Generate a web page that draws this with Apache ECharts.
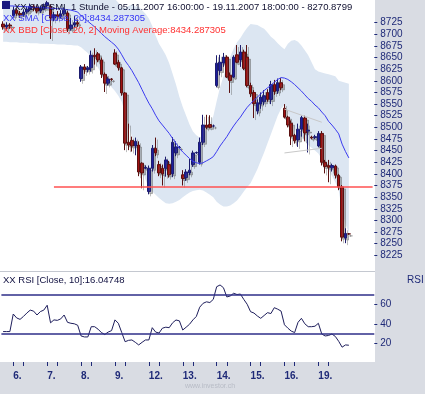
<!DOCTYPE html>
<html><head><meta charset="utf-8">
<script src="https://cdn.jsdelivr.net/npm/echarts@6/dist/echarts.min.js"></script>
<style>html,body{margin:0;padding:0;background:#fff}#c{width:425px;height:394px}</style>
</head><body><div id="c"></div>
<script>
// ---- data ----
const dayLabels = ['5.','6.','7.','8.','9.','12.','13.','14.','15.','16.','19.'];
const barsPerDay = [3,10,10,10,10,10,10,10,10,10,10];
const hours = ['09:00','10:00','11:00','12:00','13:00','14:00','15:00','16:00','17:00','18:00'];

const opens = [8722,8716,8720,
 8740,8752,8745,8742,8748,8754,8760,8758,8750,8756,
 8762,8760,8735,8742,8738,8744,8746,8712,8720,8725,
 8605,8630,8624,8628,8655,8658,8645,8614,8595,8604,
 8660,8640,8628,8574,8468,8472,8460,8462,8423,8412,
 8362,8412,8455,8420,8412,8412,8420,8400,8445,8456,
 8398,8392,8402,8420,8445,8425,8468,8505,8506,8503,
 8590,8622,8638,8651,8612,8608,8656,8645,8662,8651,
 8590,8575,8535,8550,8555,8575,8560,8592,8578,8596,
 8541,8522,8509,8483,8473,8496,8520,8492,8479,8478,
 8460,8487,8425,8418,8413,8417,8397,8372,8262,8271];
const closes = [8716,8720,8718,
 8752,8745,8742,8748,8754,8760,8758,8750,8756,8760,
 8768,8735,8742,8738,8744,8752,8712,8720,8725,8722,
 8630,8624,8628,8655,8652,8645,8614,8595,8604,8603,
 8636,8628,8574,8466,8462,8460,8470,8404,8402,8414,
 8412,8455,8445,8402,8400,8430,8398,8468,8458,8457,
 8390,8404,8408,8445,8446,8468,8505,8500,8500,8503,
 8638,8640,8651,8608,8601,8651,8640,8662,8627,8590,
 8572,8551,8553,8565,8568,8560,8592,8577,8596,8585,
 8522,8505,8481,8471,8496,8521,8488,8494,8477,8480,
 8487,8425,8416,8414,8418,8397,8372,8264,8272,8270.9];
const lows = [8710,8710,8712,
 8736,8740,8735,8738,8744,8750,8750,8745,8746,8752,
 8755,8690,8728,8730,8735,8740,8705,8708,8715,8716,
 8598,8615,8618,8620,8635,8640,8606,8576,8590,8600,
 8634,8622,8568,8451,8451,8448,8440,8395,8369,8410,
 8356,8405,8438,8395,8375,8394,8392,8393,8438,8455,
 8375,8385,8397,8415,8443,8420,8462,8496,8498,8500,
 8586,8612,8630,8606,8574,8606,8638,8630,8623,8586,
 8565,8520,8528,8540,8548,8555,8550,8570,8572,8580,
 8519,8500,8462,8465,8458,8480,8470,8446,8474,8475,
 8457,8418,8401,8382,8405,8390,8365,8255,8251,8269];
const highs = [8728,8726,8724,
 8760,8756,8750,8754,8760,8766,8764,8762,8762,8766,
 8772,8764,8748,8750,8752,8758,8750,8735,8740,8732,
 8634,8636,8632,8665,8670,8662,8650,8618,8608,8606,
 8668,8645,8630,8576,8508,8480,8478,8470,8425,8418,
 8418,8462,8478,8428,8420,8437,8428,8479,8470,8460,
 8408,8410,8432,8450,8448,8478,8527,8527,8526,8506,
 8655,8656,8660,8655,8618,8655,8677,8677,8667,8677,
 8596,8580,8560,8575,8580,8582,8600,8602,8605,8606,
 8550,8525,8515,8486,8508,8525,8525,8508,8482,8484,
 8492,8492,8430,8430,8422,8420,8400,8376,8283,8273];

const sma20 = [8762,8762,8761,8761,8760,8760,8760,8759,8759,8758,8758,8758,8757,8757,8756,8756,8755,8755,8754,8753,8752,8750,8748,
 8740,8734,8728,8722,8716,8709,8702,8695,8689,8683,
 8677,8668,8656,8643,8633,8622,8609,8596,8581,8566,
 8552,8540,8526,8514,8505,8496,8487,8476,8466,8455,
 8447,8440,8433,8427,8424,8422,8424,8428,8432,8437,
 8448,8460,8470,8480,8492,8503,8513,8522,8533,8543,
 8551,8558,8565,8572,8579,8585,8590,8597,8603,8607,
 8606,8603,8598,8592,8585,8578,8570,8562,8556,8548,
 8542,8533,8525,8513,8505,8496,8486,8464,8448,8434.29];
const bbLower = [8684,8684,8683,8683,8683,8682,8682,8682,8681,8681,8681,8680,8680,8680,8679,8679,8678,8678,8678,8677,8677,8676,8676,
 8672,8666,8660,8650,8640,8628,8615,8605,8595,8586,
 8578,8568,8555,8530,8505,8480,8458,8432,8410,8388,
 8370,8362,8355,8348,8342,8337,8336,8337,8340,8344,
 8350,8355,8360,8363,8365,8366,8364,8360,8355,8350,
 8340,8334,8330,8330,8332,8337,8343,8352,8362,8372,
 8380,8395,8410,8428,8446,8466,8485,8505,8525,8540,
 8548,8530,8512,8496,8486,8478,8470,8462,8456,8450,
 8444,8432,8420,8408,8396,8382,8364,8320,8292,8273];
const bbUpper = [8840,8840,8839,8839,8837,8838,8838,8836,8837,8835,8835,8836,8834,8834,8833,8833,8832,8832,8830,8829,8827,8824,8820,
 8808,8802,8796,8794,8792,8790,8789,8785,8783,8780,
 8776,8768,8757,8756,8761,8764,8760,8760,8752,8744,
 8734,8718,8697,8680,8668,8655,8638,8615,8592,8566,
 8544,8525,8506,8491,8483,8478,8484,8496,8509,8524,
 8556,8586,8610,8630,8652,8669,8683,8692,8704,8714,
 8722,8721,8720,8716,8712,8704,8695,8689,8681,8674,
 8668,8680,8686,8688,8684,8676,8666,8655,8640,8625,
 8620,8618,8616,8614,8612,8610,8600,8598,8596,8594];

const rsi10 = [32,32,32,
 50,46,44.5,47.5,51,54,53,49,52.5,54,
 59,41,44,43.5,45,49,41.5,40.5,40,38.5,
 27.5,26.5,26.5,37,37,34.5,31,29,31.5,33,
 44,40.5,31,21.6,23,23.4,21,18.3,21,23.4,
 23.4,36,31.5,30.5,35.5,36.5,36,41,43.9,43,
 33.6,36.5,39.5,44,47.5,57,61,62.5,61.8,65,
 78,79.8,77,67.5,68.5,71.3,70,70.5,65,60,
 52.4,51,48,45.6,48.5,51.4,50.5,56.5,55,53,
 39,35.5,32.5,31,41.5,45.6,40,37,37,37.5,
 40.5,29.5,27.5,28,29.5,27,22,16,18.3,18];

const supportLevel = 8373;
const rsiLevels = [70, 30];
const priceTicks = [8225,8250,8275,8300,8325,8350,8375,8400,8425,8450,8475,8500,8525,8550,8575,8600,8625,8650,8675,8700,8725];
const rsiTicks = [20,40,60];

// ---- build ----
const cats = [];
const dayStart = {};
const tickIdx = {};
dayLabels.forEach((d, k) => {
  const n = barsPerDay[k];
  const first = k === 0 ? 7 : 0;
  for (let j = 0; j < n; j++) {
    const idx = cats.length;
    if (k > 0 && j === 0) { dayStart[idx] = true; tickIdx[idx] = true; tickIdx[idx + 3] = true; }
    cats.push(d + ' ' + hours[first + j]);
  }
});
while (cats.length < 110) cats.push('pad' + cats.length);

const candleData = opens.map((o, i) => [o, closes[i], lows[i], highs[i]]);
const bandWidth = bbUpper.map((u, i) => +(u - bbLower[i]).toFixed(2));

const NAVY = '#1f2a78';
const FONT = 'Liberation Sans, Arial, sans-serif';

const chart = echarts.init(document.getElementById('c'), null, {renderer: 'canvas'});
chart.setOption({
  animation: false,
  backgroundColor: '#ffffff',
  grid: [
    {left: 1.4, top: 0, width: 372.9, height: 271},
    {left: 1.4, top: 272, width: 372.9, height: 90}
  ],
  xAxis: [
    {type: 'category', gridIndex: 0, data: cats, boundaryGap: true, show: false},
    {type: 'category', gridIndex: 1, data: cats, boundaryGap: true,
      axisLine: {show: false},
      axisTick: {show: true, alignWithLabel: true, length: 4, interval: (i) => !!tickIdx[i],
        lineStyle: {color: NAVY, width: 1}},
      axisLabel: {show: true, interval: (i) => !!dayStart[i], align: 'left', margin: 9,
        formatter: (v) => v.split(' ')[0], color: NAVY, fontSize: 10, fontWeight: 'bold', fontFamily: FONT},
      splitLine: {show: false}}
  ],
  yAxis: [
    {type: 'value', gridIndex: 0, position: 'right', min: 8191.2, max: 8773.8,
      splitLine: {show: false}, axisLine: {show: false},
      axisTick: {show: true, length: 3, customValues: priceTicks, lineStyle: {color: NAVY}},
      axisLabel: {customValues: priceTicks, margin: 6, color: NAVY, fontSize: 10, fontFamily: FONT,
        formatter: (v) => String(Math.round(v))}},
    {type: 'value', gridIndex: 1, position: 'right', min: 0.8, max: 93.1,
      splitLine: {show: false}, axisLine: {show: false},
      axisTick: {show: true, length: 3, customValues: rsiTicks, lineStyle: {color: NAVY}},
      axisLabel: {customValues: rsiTicks, margin: 6, color: NAVY, fontSize: 10, fontFamily: FONT,
        formatter: (v) => String(Math.round(v))}}
  ],
  series: [
    {type: 'line', name: 'bbLow', xAxisIndex: 0, yAxisIndex: 0, data: bbLower, stack: 'bb',
      symbol: 'none', lineStyle: {width: 0, opacity: 0}, silent: true, z: 1},
    {type: 'line', name: 'bbBand', xAxisIndex: 0, yAxisIndex: 0, data: bandWidth, stack: 'bb',
      symbol: 'none', lineStyle: {width: 0, opacity: 0}, areaStyle: {color: '#dce6f2', opacity: 1}, silent: true, z: 1},
    {type: 'candlestick', name: 'SMI', xAxisIndex: 0, yAxisIndex: 0, data: candleData, barWidth: 3, z: 3,
      itemStyle: {color: '#1d1d9e', color0: '#a01212', borderColor: '#1d1d6e', borderColor0: '#5a1010', borderWidth: 1,
        shadowColor: 'rgba(90,90,90,0.4)', shadowOffsetX: 2, shadowOffsetY: 2, shadowBlur: 0}},
    {type: 'line', name: 'SMA', xAxisIndex: 0, yAxisIndex: 0, data: sma20, symbol: 'none', z: 4,
      lineStyle: {color: '#3c3cf0', width: 1},
      markLine: {symbol: 'none', silent: true, label: {show: false},
        data: [
          [{coord: [15, supportLevel], lineStyle: {color: '#ff5050', width: 1.5, type: 'solid'}}, {coord: [109, supportLevel]}],
          [{coord: [83, 8539], lineStyle: {color: '#c8c8c8', width: 1, type: 'solid'}}, {coord: [94, 8511]}],
          [{coord: [83, 8445], lineStyle: {color: '#c8c8c8', width: 1, type: 'solid'}}, {coord: [94, 8455]}]
        ]}},
    {type: 'line', name: 'RSI', xAxisIndex: 1, yAxisIndex: 1, data: rsi10, symbol: 'none', z: 4,
      lineStyle: {color: '#1e1e5c', width: 1},
      markLine: {symbol: 'none', silent: true, label: {show: false},
        lineStyle: {color: '#2e2e88', width: 1.5, type: 'solid'},
        data: rsiLevels.map(v => ({yAxis: v}))}}
  ],
  graphic: {elements: [
    {type: 'rect', shape: {x: 375, y: 0, width: 50, height: 394}, style: {fill: '#d9dce3'}, z: -10, silent: true},
    {type: 'rect', shape: {x: 0, y: 362, width: 425, height: 32}, style: {fill: '#d9dce3'}, z: -10, silent: true},
    {type: 'line', shape: {x1: 0, y1: 271.5, x2: 375, y2: 271.5}, style: {stroke: '#c4c8d0', lineWidth: 1}, z: 10, silent: true},
    {type: 'rect', shape: {x: 2, y: 1, width: 8, height: 8}, style: {fill: '#1a1a80'}, z: 100, silent: true},
    {type: 'text', x: 14, y: 2, z: 100, style: {text: 'XX SMI SMI, 1 Stunde - 05.11.2007 16:00:00 - 19.11.2007 18:00:00 - 8270.8799', fill: '#101030', font: '9.5px ' + FONT}},
    {type: 'text', x: 3, y: 13, z: 100, style: {text: 'XX SMA [Close, 20]:8434.287305', fill: '#3535f5', font: '9.5px ' + FONT}},
    {type: 'text', x: 3, y: 25, z: 100, style: {text: 'XX BBD [Close, 20, 2] Moving Average:8434.287305', fill: '#ff3030', font: '9.5px ' + FONT}},
    {type: 'text', x: 3, y: 275, z: 100, style: {text: 'XX RSI [Close, 10]:16.04748', fill: '#101040', font: '9.5px ' + FONT}},
    {type: 'text', x: 407, y: 275, z: 100, style: {text: 'RSI', fill: NAVY, font: '10px ' + FONT}},
    {type: 'text', x: 210, y: 383, z: 100, style: {text: 'www.investor.ch', fill: '#b8bcc6', font: '7px ' + FONT, align: 'center'}}
  ]}
});
</script></body></html>
